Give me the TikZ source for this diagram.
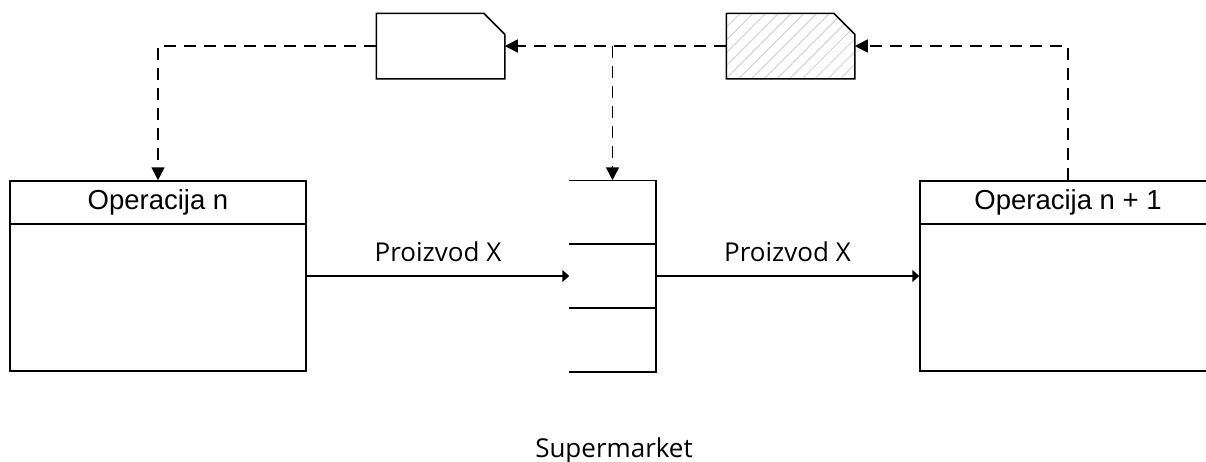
\documentclass[tikz,border=0pt]{standalone}
\usepackage{fontspec}
\setmainfont{Liberation Sans}
\newfontfamily\labelfont{Open Sans}
\usetikzlibrary{arrows.meta,calc,patterns.meta,positioning}

\begin{document}
\begin{tikzpicture}[x=1pt,y=-1pt,line width=1.5pt,
		opbox/.style={draw,minimum width=296pt,minimum height=190pt,inner sep=0pt},
		optitle/.style={draw,minimum width=296pt,minimum height=43pt,inner sep=0pt,anchor=north,font=\fontsize{27.5}{33}\selectfont},
		card/.style={minimum width=127pt,minimum height=64pt,inner sep=0pt},
		flowlbl/.style={font=\labelfont\fontsize{26}{31}\selectfont,anchor=base},
		info/.style={dash pattern=on 12pt off 8pt,-{Triangle[length=13pt,width=13pt]}},
		flow/.style={-{Triangle[length=7pt,width=12pt]}}]
		\clip (0,0) rectangle (1206,461);
		% operations
		\node[opbox] (op1) at (158,276) {};
		\node[optitle] (op1t) at (op1.north) {Operacija n};
		\node[opbox] (op2) at (1068,276) {};
		\node[optitle] (op2t) at (op2.north) {Operacija n + 1};
		% supermarket
		\node[minimum width=85pt,minimum height=190pt,inner sep=0pt] (sm) at (612.5,276) {};
		\draw (sm.north west) -- (sm.north east) -- (sm.south east) -- (sm.south west);
		\foreach \f in {1,2}
			\draw ($(sm.north west)!\f/3!(sm.south west)$) -- ($(sm.north east)!\f/3!(sm.south east)$);
		\node[flowlbl] (smlbl) at (614,457) {Supermarket};
		% kanban cards
		\node[card] (c1) at (440.5,46) {};
		\node[card] (c2) at (790.5,46) {};
		\draw (c1.south west) -- (c1.north west) -- ([xshift=-21pt]c1.north east) -- ([yshift=-21pt]c1.north east) -- (c1.south east) -- cycle;
		\draw[pattern={Lines[angle=45,distance=9pt,line width=1pt]},pattern color=gray!35]
			(c2.south west) -- (c2.north west) -- ([xshift=-21pt]c2.north east) -- ([yshift=-21pt]c2.north east) -- (c2.south east) -- cycle;
		% material flow
		\draw[flow] (op1.east) -- node[flowlbl,above=10pt] {Proizvod X} (sm.west);
		\draw[flow] (sm.east) -- node[flowlbl,above=10pt] {Proizvod X} (op2.west);
		% information flow
		\coordinate (split) at (sm.north |- c1.east);
		\draw[info] (op2t.north) |- (c2.east);
		\draw[info] (c2.west) -- (c1.east);
		\draw[info] (split) -- (sm.north);
		\draw[info] (c1.west) -| (op1t.north);
	\end{tikzpicture}
\end{document}
